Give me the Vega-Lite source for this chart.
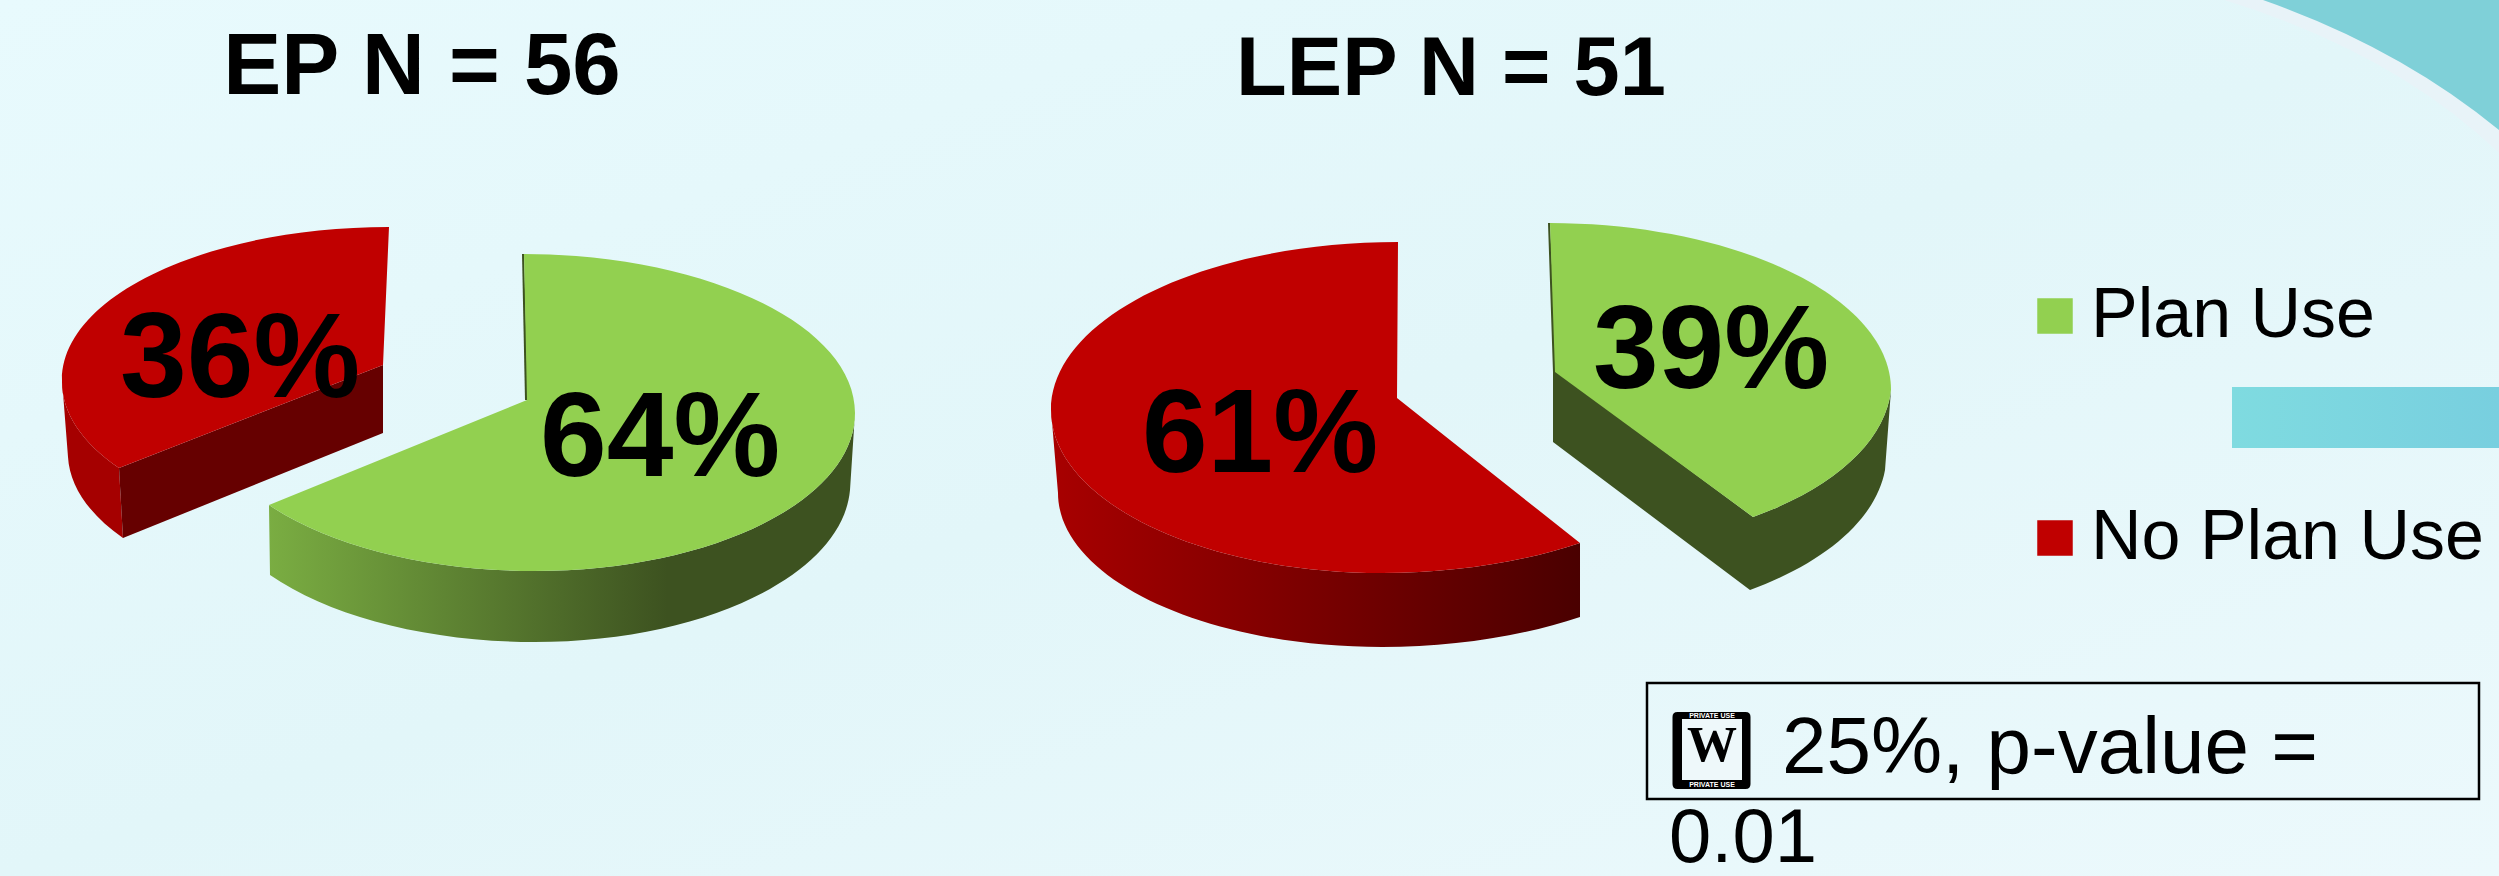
{"$schema":"https://vega.github.io/schema/vega-lite/v6.json","width":2499,"height":876,"padding":0,"autosize":{"type":"none"},"background":"#e2f6f9","view":{"stroke":null},"config":{"font":"Liberation Sans"},
"datasets":{"slices":[{"panel":"EP","slice":"EP Plan Use","category":"Plan Use","share":0.64},{"panel":"EP","slice":"EP No Plan Use","category":"No Plan Use","share":0.36},{"panel":"LEP","slice":"LEP No Plan Use","category":"No Plan Use","share":0.61},{"panel":"LEP","slice":"LEP Plan Use","category":"Plan Use","share":0.39}],"panels":[{"panel":"EP","label":"EP N = 56"},{"panel":"LEP","label":"LEP N = 51"}],"note":[{"line1":"25%, p-value =","line2":"0.01"}]},
"data":{"name":"slices"},
"encoding":{"x":{"field":"panel","type":"nominal","scale":{"type":"point","domain":["EP","LEP"],"range":[525,1397],"padding":0},"axis":null}},
"layer":[
{"data":{"name":"note"},"mark":{"type":"rect","fill":{"x1":0,"y1":0,"x2":1,"y2":1,"gradient":"linear","stops":[{"offset":0,"color":"#e8fafd"},{"offset":0.5,"color":"#e2f6f9"},{"offset":1,"color":"#ecf9fc"}]}},"encoding":{"x":{"value":0},"x2":{"value":2499}}},
{"data":{"name":"note"},"mark":{"type":"point","filled":true,"size":4,"opacity":1,"strokeWidth":0,"fill":"#e8f3f8","shape":"M975,-438 Q1145,-385 1249.5,-285 L1249.5,-438 Z"},"encoding":{"x":{"value":1249.5}}},
{"data":{"name":"note"},"mark":{"type":"point","filled":true,"size":4,"opacity":1,"strokeWidth":0,"fill":"#7fd0d8","shape":"M1013.5,-438 Q1150,-390 1249.5,-308 L1249.5,-438 Z"},"encoding":{"x":{"value":1249.5}}},
{"data":{"name":"note"},"mark":{"type":"point","filled":true,"size":4,"opacity":1,"strokeWidth":0,"fill":{"x1":0,"y1":0,"x2":1,"y2":0,"gradient":"linear","stops":[{"offset":0,"color":"#7fdbe0"},{"offset":1,"color":"#78cfdf"}]},"shape":"M982.5,-51 L1249.5,-51 L1249.5,10 L982.5,10 Z"},"encoding":{"x":{"value":1249.5}}},
{"transform":[{"filter":"datum.slice === 'EP Plan Use'"}],"mark":{"type":"point","filled":true,"size":4,"opacity":1,"strokeWidth":0,"fill":{"x1":0,"y1":0,"x2":1,"y2":0,"gradient":"linear","stops":[{"offset":0,"color":"#7aad42"},{"offset":0.68,"color":"#3d5220"},{"offset":1,"color":"#3d5220"}]},"shape":"M-256,67 L-255,137 A324,159 0 0 0 9,204 A316,159 0 0 0 325,52 L330,-25 A321,158 0 0 1 9,133 A327,159 0 0 1 -256,67 Z"}},
{"transform":[{"filter":"datum.slice === 'EP Plan Use'"}],"mark":{"type":"point","filled":true,"size":4,"opacity":1,"strokeWidth":0,"fill":"#3d5220","shape":"M-3,-184 L0,-38 L3,-38 L-1,-184 Z"}},
{"transform":[{"filter":"datum.slice === 'EP No Plan Use'"}],"mark":{"type":"point","filled":true,"size":4,"opacity":1,"strokeWidth":0,"fill":"#a50000","shape":"M-463,-58 L-457,19 A327,153 0 0 0 -402,100 L-406,30 A327,153 0 0 1 -463,-58 Z"}},
{"transform":[{"filter":"datum.slice === 'EP No Plan Use'"}],"mark":{"type":"point","filled":true,"size":4,"opacity":1,"strokeWidth":0,"fill":"#660000","shape":"M-406,30 L-402,100 L-142,-5 L-142,-73 Z"}},
{"transform":[{"filter":"datum.slice === 'LEP No Plan Use'"}],"mark":{"type":"point","filled":true,"size":4,"opacity":1,"strokeWidth":0,"fill":{"x1":0,"y1":0,"x2":1,"y2":0,"gradient":"linear","stops":[{"offset":0,"color":"#a80000"},{"offset":1,"color":"#4a0000"}]},"shape":"M-346,-28 L-339,55 A324,154 0 0 0 -15,209 A343,163 0 0 0 183,179 L183,105 A343,163 0 0 1 -15,135 A331,163 0 0 1 -346,-28 Z"}},
{"transform":[{"filter":"datum.slice === 'LEP Plan Use'"}],"mark":{"type":"point","filled":true,"size":4,"opacity":1,"strokeWidth":0,"fill":"#3d5220","shape":"M151,-215 L156,-66 L156,4 L353,152 A330,167 0 0 0 488,32 L494,-48 A330,167 0 0 1 356,79 L160,-66 L153,-215 Z"}},
{"mark":{"type":"point","filled":true,"size":4,"opacity":1,"strokeWidth":0},"encoding":{
"shape":{"field":"slice","type":"nominal","scale":{"domain":["EP Plan Use","EP No Plan Use","LEP No Plan Use","LEP Plan Use"],"range":["M2,-38 L-1,-184 A333,159 0 0 1 330,-25 A321,158 0 0 1 9,133 A327,159 0 0 1 -256,67 Z","M-142,-73 L-136,-211 A327,153 0 0 0 -463,-58 A327,153 0 0 0 -406,30 Z","M0,-40 L1,-196 A347,168 0 0 0 -346,-28 A331,163 0 0 0 -15,135 A343,163 0 0 0 183,105 Z","M158,-66 L153,-215 A343,167 0 0 1 494,-48 A330,167 0 0 1 356,79 Z"]},"legend":null},
"color":{"field":"category","type":"nominal","scale":{"domain":["Plan Use","No Plan Use"],"range":["#92d050","#c00000"]},"legend":{"title":null,"orient":"none","legendX":2020,"legendY":281,"symbolType":"square","symbolSize":1260,"symbolStrokeWidth":0,"labelFontSize":70,"labelFont":"Liberation Sans","labelColor":"#000000","labelOffset":1,"labelLimit":500,"rowPadding":152,"padding":0}}}},
{"transform":[{"filter":"datum.slice === 'EP No Plan Use'"}],"mark":{"type":"text","fontWeight":"bold","fontSize":120,"color":"#000000","dx":-285,"dy":-77},"encoding":{"text":{"field":"share","type":"quantitative","format":".0%"}}},
{"transform":[{"filter":"datum.slice === 'EP Plan Use'"}],"mark":{"type":"text","fontWeight":"bold","fontSize":120,"color":"#000000","dx":135,"dy":2},"encoding":{"text":{"field":"share","type":"quantitative","format":".0%"}}},
{"transform":[{"filter":"datum.slice === 'LEP No Plan Use'"}],"mark":{"type":"text","fontWeight":"bold","fontSize":118,"color":"#000000","dx":-137,"dy":-1},"encoding":{"text":{"field":"share","type":"quantitative","format":".0%"}}},
{"transform":[{"filter":"datum.slice === 'LEP Plan Use'"}],"mark":{"type":"text","fontWeight":"bold","fontSize":118,"color":"#000000","dx":314,"dy":-85},"encoding":{"text":{"field":"share","type":"quantitative","format":".0%"}}},
{"data":{"name":"panels"},"transform":[{"filter":"datum.panel === 'EP'"}],"mark":{"type":"text","fontWeight":"bold","fontSize":87,"color":"#000000","dx":-103,"dy":-370},"encoding":{"text":{"field":"label"}}},
{"data":{"name":"panels"},"transform":[{"filter":"datum.panel === 'LEP'"}],"mark":{"type":"text","fontWeight":"bold","fontSize":83,"color":"#000000","dx":54,"dy":-368},"encoding":{"text":{"field":"label"}}},
{"data":{"name":"note"},"mark":{"type":"point","filled":false,"size":4,"opacity":1,"strokeWidth":2.5,"stroke":"#000000","shape":"M397.5,245 L1229.5,245 L1229.5,361 L397.5,361 Z"},"encoding":{"x":{"value":1249.5}}},
{"data":{"name":"note"},"mark":{"type":"point","filled":true,"size":4,"opacity":1,"strokeWidth":0,"fill":"#000000","shape":"M428,274 L496,274 Q501,274 501,279 L501,346 Q501,351 496,351 L428,351 Q423,351 423,346 L423,279 Q423,274 428,274 Z"},"encoding":{"x":{"value":1249.5}}},
{"data":{"name":"note"},"mark":{"type":"point","filled":true,"size":4,"opacity":1,"strokeWidth":0,"fill":"#eef8fa","shape":"M432.5,281 L492.5,281 L492.5,342 L432.5,342 Z"},"encoding":{"x":{"value":1249.5}}},
{"data":{"name":"note"},"mark":{"type":"text","font":"Liberation Serif","fontWeight":"bold","fontSize":50,"color":"#000000","align":"center","baseline":"middle"},"encoding":{"x":{"value":1712},"y":{"value":746},"text":{"value":"W"}}},
{"data":{"name":"note"},"mark":{"type":"text","fontWeight":"bold","fontSize":7,"color":"#ffffff","align":"center","baseline":"middle"},"encoding":{"x":{"value":1712},"y":{"value":716},"text":{"value":"PRIVATE USE"}}},
{"data":{"name":"note"},"mark":{"type":"text","fontWeight":"bold","fontSize":7,"color":"#ffffff","align":"center","baseline":"middle"},"encoding":{"x":{"value":1712},"y":{"value":785},"text":{"value":"PRIVATE USE"}}},
{"data":{"name":"note"},"mark":{"type":"text","fontSize":80,"color":"#000000","align":"left","baseline":"alphabetic"},"encoding":{"x":{"value":1782},"y":{"value":773},"text":{"field":"line1"}}},
{"data":{"name":"note"},"mark":{"type":"text","fontSize":76,"color":"#000000","align":"left","baseline":"alphabetic"},"encoding":{"x":{"value":1669},"y":{"value":862},"text":{"field":"line2"}}}
]}
